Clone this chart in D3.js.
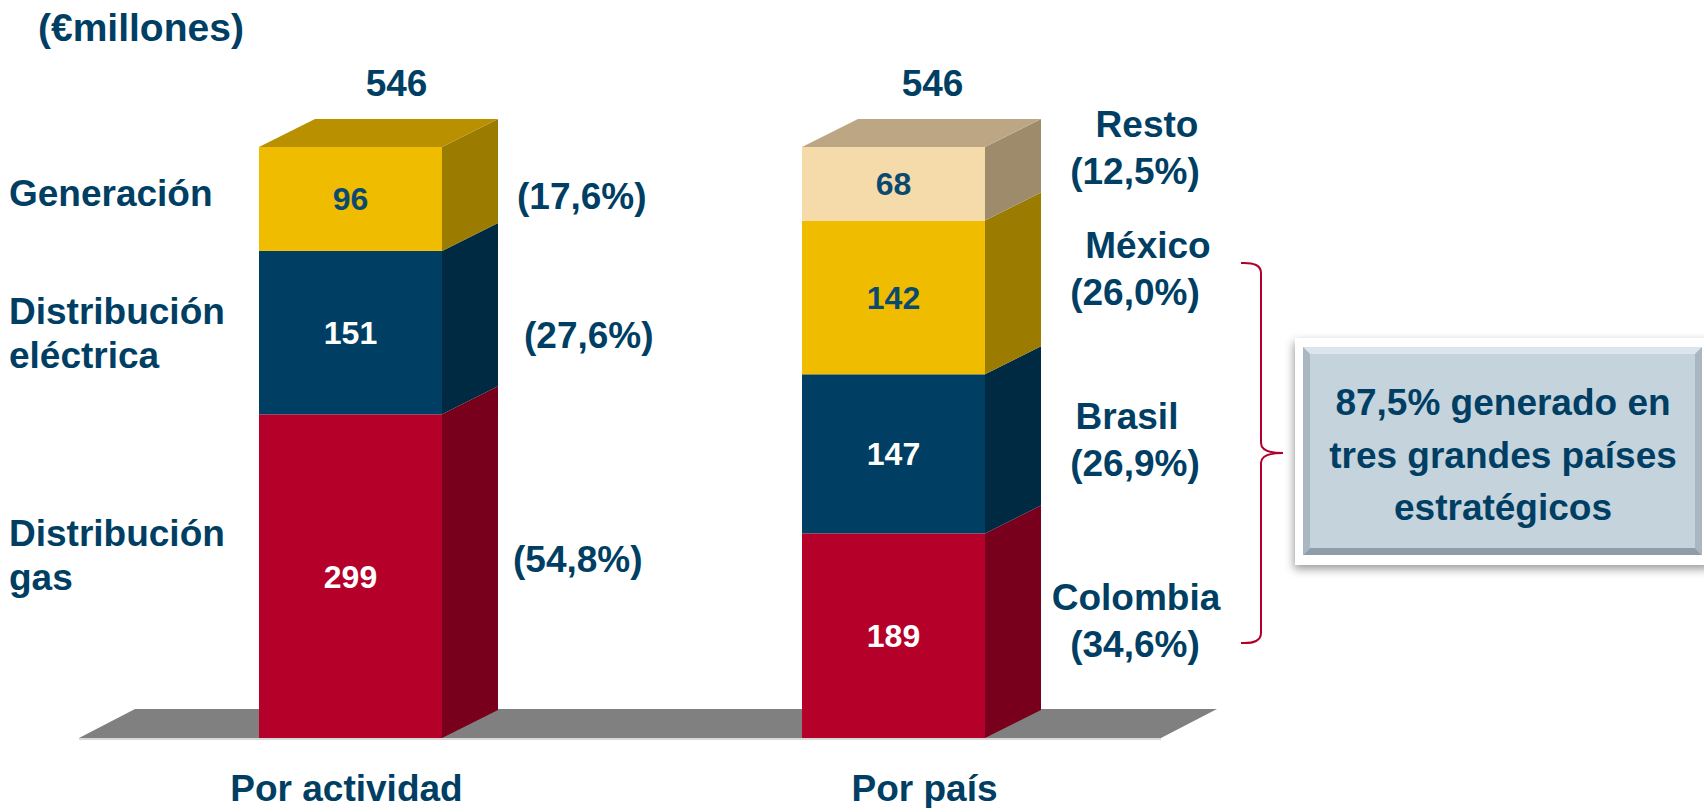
<!DOCTYPE html>
<html lang="es">
<head>
<meta charset="UTF-8">
<title>(€millones)</title>
<script src="https://cdn.jsdelivr.net/npm/d3@7"></script>
<style>
  body { margin: 0; background: #fff; }
  text { font-family: "Liberation Sans", Arial, sans-serif; font-weight: bold; }
</style>
</head>
<body>
<svg width="1704" height="808"></svg>
<script>
// datos
var grupos = ['Por actividad', 'Por país'];
var totales = [546, 546];

var actividades = [['Distribución', 'gas'], ['Distribución', 'eléctrica'], ['Generación']];
var valoresActividad = [299, 151, 96];
var pctActividad = ['(54,8%)', '(27,6%)', '(17,6%)'];

var paises = ['Colombia', 'Brasil', 'México', 'Resto'];
var valoresPais = [189, 147, 142, 68];
var pctPais = ['(34,6%)', '(26,9%)', '(26,0%)', '(12,5%)'];

var nota = ['87,5% generado en', 'tres grandes países', 'estratégicos'];

// colores: frente, lateral, tapa, texto
var rojo = {front: '#B5002A', side: '#78001D', top: '#8F0022', txt: '#fff'};
var azul = {front: '#003F63', side: '#002A42', top: '#003250', txt: '#fff'};
var amarillo = {front: '#F0BC00', side: '#9B7B00', top: '#B89000', txt: '#0B4A70'};
var beige = {front: '#F5DBAA', side: '#9E8B6C', top: '#BDA683', txt: '#0B4A70'};
var coloresActividad = [rojo, azul, amarillo];
var coloresPais = [rojo, azul, amarillo, beige];

var azulTexto = '#003F63';
var depthX = 56, depthY = -28;

var svg = d3.select('svg');

var x = d3.scaleBand().domain(grupos).range([259, 985]).paddingInner(0.663);
var y = d3.scaleLinear().domain([0, d3.max(totales)]).range([738, 147]);
var bw = x.bandwidth();

// suelo gris
var floorL = 79, floorR = 1161, floorB = y(0), floorT = y(0) - 29;
svg.append('polygon')
  .attr('points', [[floorL, floorB], [floorR, floorB], [floorR + depthX, floorT], [floorL + depthX, floorT]].join(' '))
  .attr('fill', '#808080');
svg.append('line')
  .attr('x1', floorL).attr('x2', floorR).attr('y1', floorB + 1).attr('y2', floorB + 1)
  .attr('stroke', '#d8d8d8').attr('stroke-width', 2);

function segmentos(valores, colores) {
  var acum = d3.cumsum(valores);
  return valores.map(function(v, i) {
    return {v: v, y0: acum[i] - v, y1: acum[i], c: colores[i], i: i};
  });
}

function barra(grupo, segs) {
  var x0 = x(grupo), x1 = x0 + bw;
  var g = svg.append('g');
  g.selectAll('.front').data(segs).enter().append('rect')
    .attr('x', x0).attr('width', bw)
    .attr('y', function(d) { return y(d.y1); })
    .attr('height', function(d) { return y(d.y0) - y(d.y1); })
    .attr('fill', function(d) { return d.c.front; });
  g.selectAll('.side').data(segs).enter().append('polygon')
    .attr('points', function(d) {
      return [[x1, y(d.y0)], [x1, y(d.y1)], [x1 + depthX, y(d.y1) + depthY], [x1 + depthX, y(d.y0) + depthY]].join(' ');
    })
    .attr('fill', function(d) { return d.c.side; });
  var top = segs[segs.length - 1];
  g.append('polygon')
    .attr('points', [[x0, y(top.y1)], [x1, y(top.y1)], [x1 + depthX, y(top.y1) + depthY], [x0 + depthX, y(top.y1) + depthY]].join(' '))
    .attr('fill', top.c.top);
  g.selectAll('.val').data(segs).enter().append('text')
    .attr('x', x0 + bw / 2)
    .attr('y', function(d) { return (y(d.y0) + y(d.y1)) / 2; })
    .attr('dy', '0.36em')
    .attr('text-anchor', 'middle')
    .attr('font-size', 32)
    .attr('fill', function(d) { return d.c.txt; })
    .text(function(d) { return d.v; });
  return g;
}

var segA = segmentos(valoresActividad, coloresActividad);
var segP = segmentos(valoresPais, coloresPais);
barra(grupos[0], segA);
barra(grupos[1], segP);

// totales
svg.selectAll('.total').data(grupos).enter().append('text')
  .attr('x', function(d, i) { return x(d) + bw / 2 + [46, 39][i]; })
  .attr('y', 83).attr('dy', '0.36em')
  .attr('text-anchor', 'middle').attr('font-size', 37).attr('fill', azulTexto)
  .text(function(d, i) { return totales[i]; });

// etiquetas de grupo
svg.selectAll('.grupo').data(grupos).enter().append('text')
  .attr('x', function(d, i) { return x(d) + bw / 2 + [-4, 31][i]; })
  .attr('y', 788).attr('dy', '0.36em')
  .attr('text-anchor', 'middle').attr('font-size', 37).attr('fill', azulTexto)
  .text(function(d) { return d; });

// titulo
svg.append('text').attr('x', 38).attr('y', 27).attr('dy', '0.36em')
  .attr('font-size', 39).attr('fill', azulTexto).text('(€millones)');

// etiquetas izquierda (actividad)
var lh = 44;
var nudgeA = [-21, 0, -6];
segA.forEach(function(d) {
  var cy = (y(d.y0) + y(d.y1)) / 2 + nudgeA[d.i];
  var lines = actividades[d.i];
  var t = svg.append('text').attr('x', 9).attr('font-size', 37).attr('fill', azulTexto);
  lines.forEach(function(l, k) {
    t.append('tspan').attr('x', 9)
      .attr('y', cy + (k - (lines.length - 1) / 2) * lh).attr('dy', '0.36em').text(l);
  });
});
var pctNudgeA = [[-4, -17], [7, 2], [0, -3]];
svg.selectAll('.pctA').data(segA).enter().append('text')
  .attr('x', function(d) { return x(grupos[0]) + bw + depthX + 19 + pctNudgeA[d.i][0]; })
  .attr('y', function(d) { return (y(d.y0) + y(d.y1)) / 2 + pctNudgeA[d.i][1]; })
  .attr('dy', '0.36em').attr('font-size', 37).attr('fill', azulTexto)
  .text(function(d) { return pctActividad[d.i]; });

// etiquetas derecha (pais)
var nudgeP = [[1, -16], [-8, -15], [13, -29], [12, -37]];
var xP = x(grupos[1]) + bw + depthX + 94;
segP.forEach(function(d) {
  var cy = (y(d.y0) + y(d.y1)) / 2 + nudgeP[d.i][1];
  svg.append('text').attr('x', xP + nudgeP[d.i][0]).attr('y', cy - 23.5).attr('dy', '0.36em')
    .attr('text-anchor', 'middle').attr('font-size', 37).attr('fill', azulTexto)
    .text(paises[d.i]);
  svg.append('text').attr('x', xP).attr('y', cy + 23.5).attr('dy', '0.36em')
    .attr('text-anchor', 'middle').attr('font-size', 37).attr('fill', azulTexto)
    .text(pctPais[d.i]);
});

// llave roja
var bx = 1261, bt = 263, bb = 643, bm = 453;
svg.append('path')
  .attr('d', 'M' + (bx - 20) + ',' + bt + ' Q' + bx + ',' + (bt - 1) + ' ' + bx + ',' + (bt + 10) +
    ' L' + bx + ',' + (bm - 10) + ' Q' + bx + ',' + bm + ' ' + (bx + 22) + ',' + bm +
    ' Q' + bx + ',' + bm + ' ' + bx + ',' + (bm + 10) +
    ' L' + bx + ',' + (bb - 10) + ' Q' + bx + ',' + (bb + 1) + ' ' + (bx - 20) + ',' + bb)
  .attr('fill', 'none').attr('stroke', '#B0002A').attr('stroke-width', 2);

// cuadro de nota
var defs = svg.append('defs');
var f = defs.append('filter').attr('id', 'sombra').attr('x', '-10%').attr('y', '-10%').attr('width', '120%').attr('height', '130%');
f.append('feDropShadow').attr('dx', -1).attr('dy', 4).attr('stdDeviation', 5).attr('flood-color', '#000').attr('flood-opacity', 0.4);

var bxL = 1295, bxT = 338, bxR = 1712, bxB = 565;
svg.append('rect').attr('x', bxL).attr('y', bxT).attr('width', bxR - bxL).attr('height', bxB - bxT)
  .attr('fill', '#fff').attr('filter', 'url(#sombra)');
var iL = 1303, iT = 347, iR = 1702, iB = 555, e = 7;
svg.append('rect').attr('x', iL).attr('y', iT).attr('width', iR - iL).attr('height', iB - iT).attr('fill', '#C5D3DD');
svg.append('polygon').attr('points', [[iL, iT], [iR, iT], [iR - e, iT + e], [iL + e, iT + e]].join(' ')).attr('fill', '#DCE5EC');
svg.append('polygon').attr('points', [[iL, iB], [iR, iB], [iR - e, iB - e], [iL + e, iB - e]].join(' ')).attr('fill', '#8E9DA7');
svg.append('polygon').attr('points', [[iL, iT], [iL + e, iT + e], [iL + e, iB - e], [iL, iB]].join(' ')).attr('fill', '#A8B7C1');
svg.append('polygon').attr('points', [[iR, iT], [iR - e, iT + e], [iR - e, iB - e], [iR, iB]].join(' ')).attr('fill', '#A8B7C1');
svg.selectAll('.nota').data(nota).enter().append('text')
  .attr('x', 1503).attr('y', function(d, i) { return 402 + i * 52.5; }).attr('dy', '0.36em')
  .attr('text-anchor', 'middle').attr('font-size', 37).attr('fill', azulTexto)
  .text(function(d) { return d; });
</script>
</body>
</html>
